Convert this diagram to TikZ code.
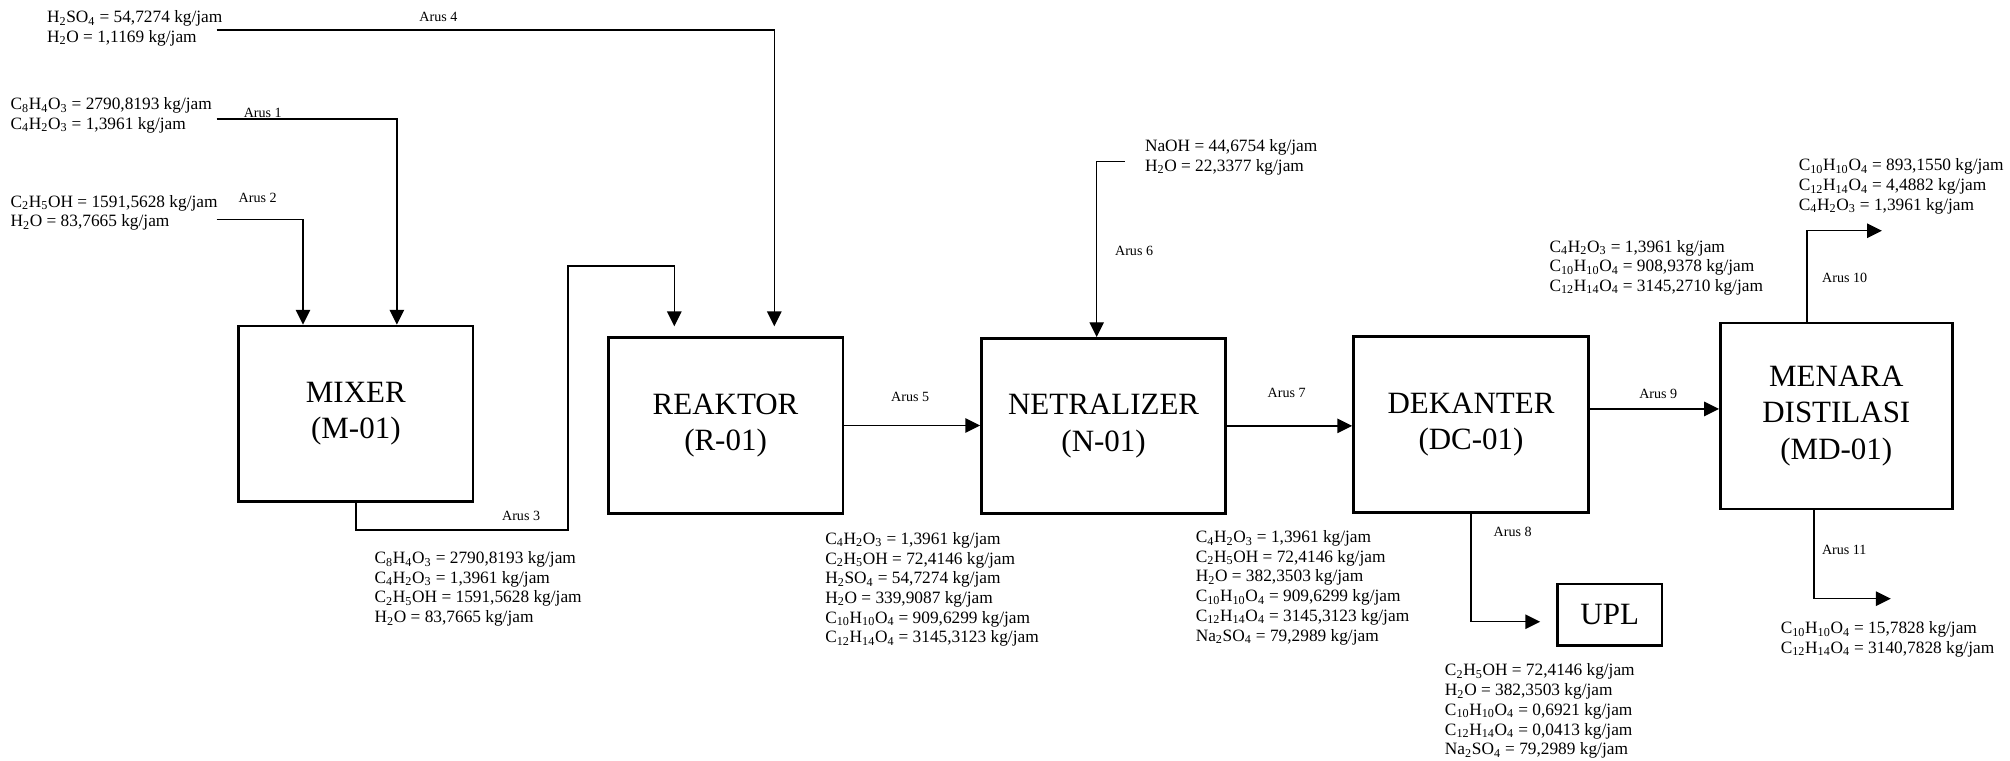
\documentclass[tikz,border=0pt]{standalone}
\usepackage{fontspec}
\setmainfont{Liberation Serif}
\usetikzlibrary{arrows.meta}

\newcommand{\sbs}[1]{\textsubscript{#1}}

\begin{document}
\begin{tikzpicture}[x=0.032cm, y=-0.032cm,
    unit/.style={draw, line width=2pt, align=center, inner sep=0pt, font=\fontsize{22}{26}\selectfont},
    flow/.style={line width=1pt, -{Triangle[length=0.37cm,width=0.36cm]}},
    mass/.style={anchor=north west, align=left, inner sep=0pt, font=\fontsize{12.3}{14}\selectfont},
    arus/.style={inner sep=0pt, font=\fontsize{10}{12}\selectfont}]

\useasboundingbox (0,0) rectangle (1568,593);

% Process units
\node[unit, minimum width=5.85cm, minimum height=4.38cm] (mix) at (277.6,322.8) {MIXER\\(M-01)};
\node[unit, minimum width=5.86cm, minimum height=4.38cm] (rea) at (566,331.9) {REAKTOR\\(R-01)};
\node[unit, minimum width=6.09cm, minimum height=4.36cm] (net) at (860.9,332.2) {NETRALIZER\\(N-01)};
\node[unit, minimum width=5.86cm, minimum height=4.38cm] (dek) at (1147.5,331.1) {DEKANTER\\(DC-01)};
\node[unit, minimum width=5.79cm, minimum height=4.64cm] (md) at (1432.5,324.5) {MENARA\\DISTILASI\\(MD-01)};
\node[unit, minimum width=2.61cm, minimum height=1.54cm] (upl) at (1255.7,479.7) {UPL};

% Stream compositions
\node[mass] (f4) at (36.5,8) {H\sbs{2}SO\sbs{4} = 54,7274 kg/jam\\H\sbs{2}O = 1,1169 kg/jam};
\node[mass] (f1) at (8,76) {C\sbs{8}H\sbs{4}O\sbs{3} = 2790,8193 kg/jam\\C\sbs{4}H\sbs{2}O\sbs{3} = 1,3961 kg/jam};
\node[mass] (f2) at (8,152) {C\sbs{2}H\sbs{5}OH = 1591,5628 kg/jam\\H\sbs{2}O = 83,7665 kg/jam};
\node[mass] (s3) at (292,430) {C\sbs{8}H\sbs{4}O\sbs{3} = 2790,8193 kg/jam\\C\sbs{4}H\sbs{2}O\sbs{3} = 1,3961 kg/jam\\C\sbs{2}H\sbs{5}OH = 1591,5628 kg/jam\\H\sbs{2}O = 83,7665 kg/jam};
\node[mass] (s5) at (643.6,415) {C\sbs{4}H\sbs{2}O\sbs{3} = 1,3961 kg/jam\\C\sbs{2}H\sbs{5}OH = 72,4146 kg/jam\\H\sbs{2}SO\sbs{4} = 54,7274 kg/jam\\H\sbs{2}O = 339,9087 kg/jam\\C\sbs{10}H\sbs{10}O\sbs{4} = 909,6299 kg/jam\\C\sbs{12}H\sbs{14}O\sbs{4} = 3145,3123 kg/jam};
\node[mass] (f6) at (893,108.6) {NaOH = 44,6754 kg/jam\\H\sbs{2}O = 22,3377 kg/jam};
\node[mass] (s7) at (932.6,413.6) {C\sbs{4}H\sbs{2}O\sbs{3} = 1,3961 kg/jam\\C\sbs{2}H\sbs{5}OH = 72,4146 kg/jam\\H\sbs{2}O = 382,3503 kg/jam\\C\sbs{10}H\sbs{10}O\sbs{4} = 909,6299 kg/jam\\C\sbs{12}H\sbs{14}O\sbs{4} = 3145,3123 kg/jam\\Na\sbs{2}SO\sbs{4} = 79,2989 kg/jam};
\node[mass] (s8) at (1127,517.7) {C\sbs{2}H\sbs{5}OH = 72,4146 kg/jam\\H\sbs{2}O = 382,3503 kg/jam\\C\sbs{10}H\sbs{10}O\sbs{4} = 0,6921 kg/jam\\C\sbs{12}H\sbs{14}O\sbs{4} = 0,0413 kg/jam\\Na\sbs{2}SO\sbs{4} = 79,2989 kg/jam};
\node[mass] (s9) at (1208.6,187) {C\sbs{4}H\sbs{2}O\sbs{3} = 1,3961 kg/jam\\C\sbs{10}H\sbs{10}O\sbs{4} = 908,9378 kg/jam\\C\sbs{12}H\sbs{14}O\sbs{4} = 3145,2710 kg/jam};
\node[mass] (s10) at (1403,123.7) {C\sbs{10}H\sbs{10}O\sbs{4} = 893,1550 kg/jam\\C\sbs{12}H\sbs{14}O\sbs{4} = 4,4882 kg/jam\\C\sbs{4}H\sbs{2}O\sbs{3} = 1,3961 kg/jam};
\node[mass] (s11) at (1389,484.6) {C\sbs{10}H\sbs{10}O\sbs{4} = 15,7828 kg/jam\\C\sbs{12}H\sbs{14}O\sbs{4} = 3140,7828 kg/jam};

% Stream labels
\foreach \n/\x/\y in {1/205/88, 2/201/154, 3/406.5/402.3, 4/342/13, 5/710/309.5, 6/884.7/195.6,
                      7/1003.7/306.7, 8/1180/415, 9/1293.6/307.6, 10/1439/216.6, 11/1438.7/429}
    \node[arus] (l\n) at (\x,\y) {Arus \n};

% Bends and free ends of the streams
\coordinate (in1) at (169,92.8);  \coordinate (c1) at (309.6,92.8);
\coordinate (in2) at (169,171);   \coordinate (c2) at (236.4,171);
\coordinate (c3a) at (443,413.5); \coordinate (c3b) at (443,207.5); \coordinate (c3c) at (526,207.5);
\coordinate (in4) at (169,23.4);  \coordinate (c4) at (604,23.4);
\coordinate (in6) at (877.4,126); \coordinate (c6) at (855.5,126);
\coordinate (o8) at (1201.5,485);
\coordinate (a9) at (1290,319);
\coordinate (c10) at (1409.6,180); \coordinate (o10) at (1468,180);
\coordinate (c11) at (1415,467);   \coordinate (o11) at (1475,467);

% Streams
\draw[flow] (in1) -- (c1) -- (c1 |- mix.north);
\draw[flow] (in2) -- (c2) -- (c2 |- mix.north);
\draw[flow, shorten >=0.25cm] (mix.south) |- (c3a) -- (c3b) -- (c3c) -- (c3c |- rea.north);
\draw[flow, shorten >=0.25cm] (in4) -- (c4) -- (c4 |- rea.north);
\draw[flow] (rea.east) -- (rea.east -| net.west);
\draw[flow] (in6) -- (c6) -- (c6 |- net.north);
\draw[flow] (net.east) -- (net.east -| dek.west);
\draw[flow] (dek.south) |- (o8);
\draw[flow] (dek.east |- a9) -- (md.west |- a9);
\draw[flow] (md.north -| c10) -- (c10) -- (o10);
\draw[flow] (md.south -| c11) -- (c11) -- (o11);

\end{tikzpicture}
\end{document}
